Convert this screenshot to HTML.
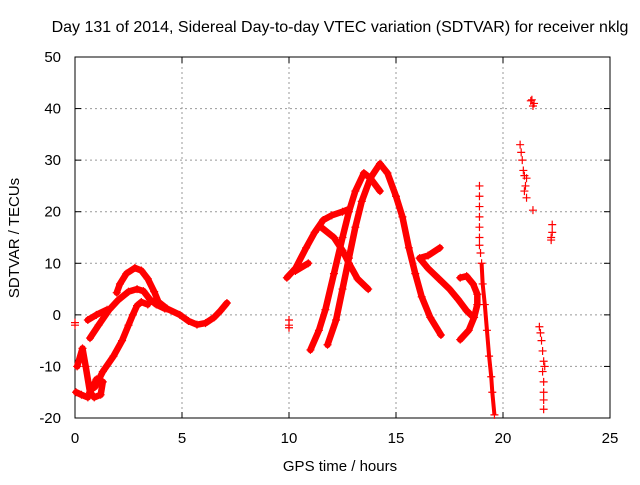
<!DOCTYPE html>
<html><head><meta charset="utf-8"><style>
body{margin:0;background:#fff}
svg text{font-family:"Liberation Sans",sans-serif;font-size:15px;fill:#000}
</style></head><body>
<svg id="c" width="640" height="480">
<g id="grid"></g>
<g id="axes"></g>
<g id="series"></g>
<text x="340" y="32" text-anchor="middle" style="font-size:16px">Day 131 of 2014, Sidereal Day-to-day VTEC variation (SDTVAR) for receiver nklg</text>
<text x="340" y="471" text-anchor="middle">GPS time / hours</text>
<text x="0" y="0" text-anchor="middle" transform="translate(19,238) rotate(-90)">SDTVAR / TECUs</text>
</svg>
<script>
const xTicks=[0,5,10,15,20,25];
const yTicks=[-20,-10,0,10,20,30,40,50];
const trackUpper=[[1.95,4.3],[2.1,6],[2.4,8],[2.8,9.1],[3.1,8.6],[3.4,7],[3.7,4.5],[3.9,2.5],[4.3,1.2],[4.9,0],[5.3,-1.2],[5.7,-1.9],[6.1,-1.6],[6.5,-0.5],[6.8,0.8],[7.1,2.3]];
const trackMiddle=[[0.7,-4.5],[1.1,-2],[1.6,1],[2.0,2.8],[2.5,4.5],[2.9,5],[3.2,4.6],[3.5,3],[3.8,2],[4.2,1.2]];
const trackLower=[[0.93,-14],[1.3,-11],[1.8,-8],[2.2,-5],[2.5,-2],[2.7,0],[2.9,1.8],[3.1,2.5],[3.4,2]];
const trackEarly=[[0.1,-10],[0.35,-6.5],[0.5,-10],[0.7,-15],[0.9,-16],[1.2,-15.5],[1.3,-13],[1.0,-12.5],[0.6,-16],[0.3,-15.5],[0.05,-15]];
const trackShort=[[0.6,-1],[1.0,0],[1.5,1]];
const trackB=[[9.9,7.2],[10.3,9],[10.8,13],[11.2,16],[11.6,18.4],[12.0,19.3],[12.5,20],[12.8,20.5]];
const trackB2=[[10.3,8.5],[10.9,10]];
const trackBdown=[[11.5,17],[12.1,15],[12.5,12.5],[12.8,10],[13.2,7],[13.7,5]];
const trackC=[[11.0,-6.8],[11.4,-3],[11.7,1],[12.1,8],[12.5,15],[12.8,20],[13.1,24],[13.5,27.5],[13.8,26.5],[14.25,24]];
const trackD=[[11.8,-5.8],[12.2,-1],[12.5,5],[12.8,11],[13.1,17],[13.4,22],[13.8,26.5],[14.25,29.3],[14.6,27.5],[15.0,23],[15.3,19],[15.6,13],[15.9,8],[16.2,3.5],[16.6,-0.5],[17.1,-3.9]];
const trackE=[[17.05,13],[16.5,11.5],[16.1,11],[16.5,9],[17.0,7],[17.5,5],[17.9,3],[18.3,0.8],[18.6,-0.4]];
const trackF=[[18.0,-4.8],[18.4,-3],[18.65,-0.5],[18.8,2],[18.8,4],[18.6,6],[18.3,7.5],[18.0,7.2]];
const trackG=[[19.0,10],[19.05,6],[19.15,2],[19.25,-3],[19.35,-8],[19.45,-12],[19.5,-15],[19.6,-19.4]];
const sparsePts=[[0,-1.5],[0,-2],[10,-1],[10,-2],[10,-2.5],[18.9,25],[18.9,23],[18.9,21],[18.9,19],[18.9,17],[18.9,15],[18.9,13.5],[18.95,12],
[21.3,41.5],[21.4,40.5],[21.35,41.7],[21.45,41],[20.8,33],[20.85,31.5],[20.9,30],[20.95,28],[21.0,27],[21.1,26.5],[21.05,25],[21.0,24],[21.1,22.7],[21.4,20.3],
[22.3,17.5],[22.3,16],[22.25,15],[22.25,14.5],
[21.7,-2.3],[21.75,-3.5],[21.8,-5],[21.85,-7],[21.9,-9],[21.85,-11],[21.95,-10],[21.9,-13],[21.9,-15],[21.9,-16.5],[21.9,-18.3]];
const X0=75,X1=610,Y0=418,Y1=57;
const xs=v=>X0+(v-0)/25*(X1-X0);
const ys=v=>Y0-(v+20)/70*(Y0-Y1);
const NS='http://www.w3.org/2000/svg';
function mk(t,a,p){const e=document.createElementNS(NS,t);for(const k in a)e.setAttribute(k,a[k]);p.appendChild(e);return e;}
const grid=document.getElementById('grid'),axes=document.getElementById('axes'),ser=document.getElementById('series');
xTicks.forEach(t=>{
 if(t>0&&t<25){const l=mk('line',{x1:xs(t),x2:xs(t),y1:Y1,y2:Y0,stroke:'#999','stroke-dasharray':'2,3'},grid);
 
 }
 mk('line',{x1:xs(t),x2:xs(t),y1:Y0,y2:Y0-6,stroke:'#000'},axes);
 mk('line',{x1:xs(t),x2:xs(t),y1:Y1,y2:Y1+6,stroke:'#000'},axes);
 const tx=mk('text',{x:xs(t),y:443,'text-anchor':'middle'},axes);tx.textContent=t;
 
 
});
yTicks.forEach(t=>{
 if(t>-20&&t<50){const l=mk('line',{x1:X0,x2:X1,y1:ys(t),y2:ys(t),stroke:'#999','stroke-dasharray':'2,3'},grid);
 
 }
 mk('line',{x1:X0,x2:X0+6,y1:ys(t),y2:ys(t),stroke:'#000'},axes);
 mk('line',{x1:X1,x2:X1-6,y1:ys(t),y2:ys(t),stroke:'#000'},axes);
 const tx=mk('text',{x:61,y:ys(t)+5,'text-anchor':'end'},axes);tx.textContent=t;
 
 
});
const frame=mk('rect',{x:X0,y:Y1,width:X1-X0,height:Y0-Y1,fill:'none',stroke:'#000'},axes);


function plus(x,y){
 const p=mk('path',{d:`M${xs(x)-4},${ys(y)}h8M${xs(x)},${ys(y)-4}v8`,stroke:'#f00','stroke-width':1.2},ser);
 
 
}
[trackUpper,trackMiddle,trackLower,trackEarly,trackShort,trackB,trackB2,trackBdown,trackC,trackD,trackE,trackF].forEach(tr=>{
 const pl=mk('polyline',{points:tr.map(p=>xs(p[0])+','+ys(p[1])).join(' '),fill:'none',stroke:'#f00','stroke-width':6.5,'stroke-linejoin':'round','stroke-linecap':'round'},ser);
 
 
 tr.forEach(p=>plus(p[0],p[1]));
});
{const pl=mk('polyline',{points:trackG.map(p=>xs(p[0])+','+ys(p[1])).join(' '),fill:'none',stroke:'#f00','stroke-width':4},ser);
 
 
 trackG.forEach(p=>plus(p[0],p[1]));}
sparsePts.forEach(p=>plus(p[0],p[1]));
</script>
</body></html>
